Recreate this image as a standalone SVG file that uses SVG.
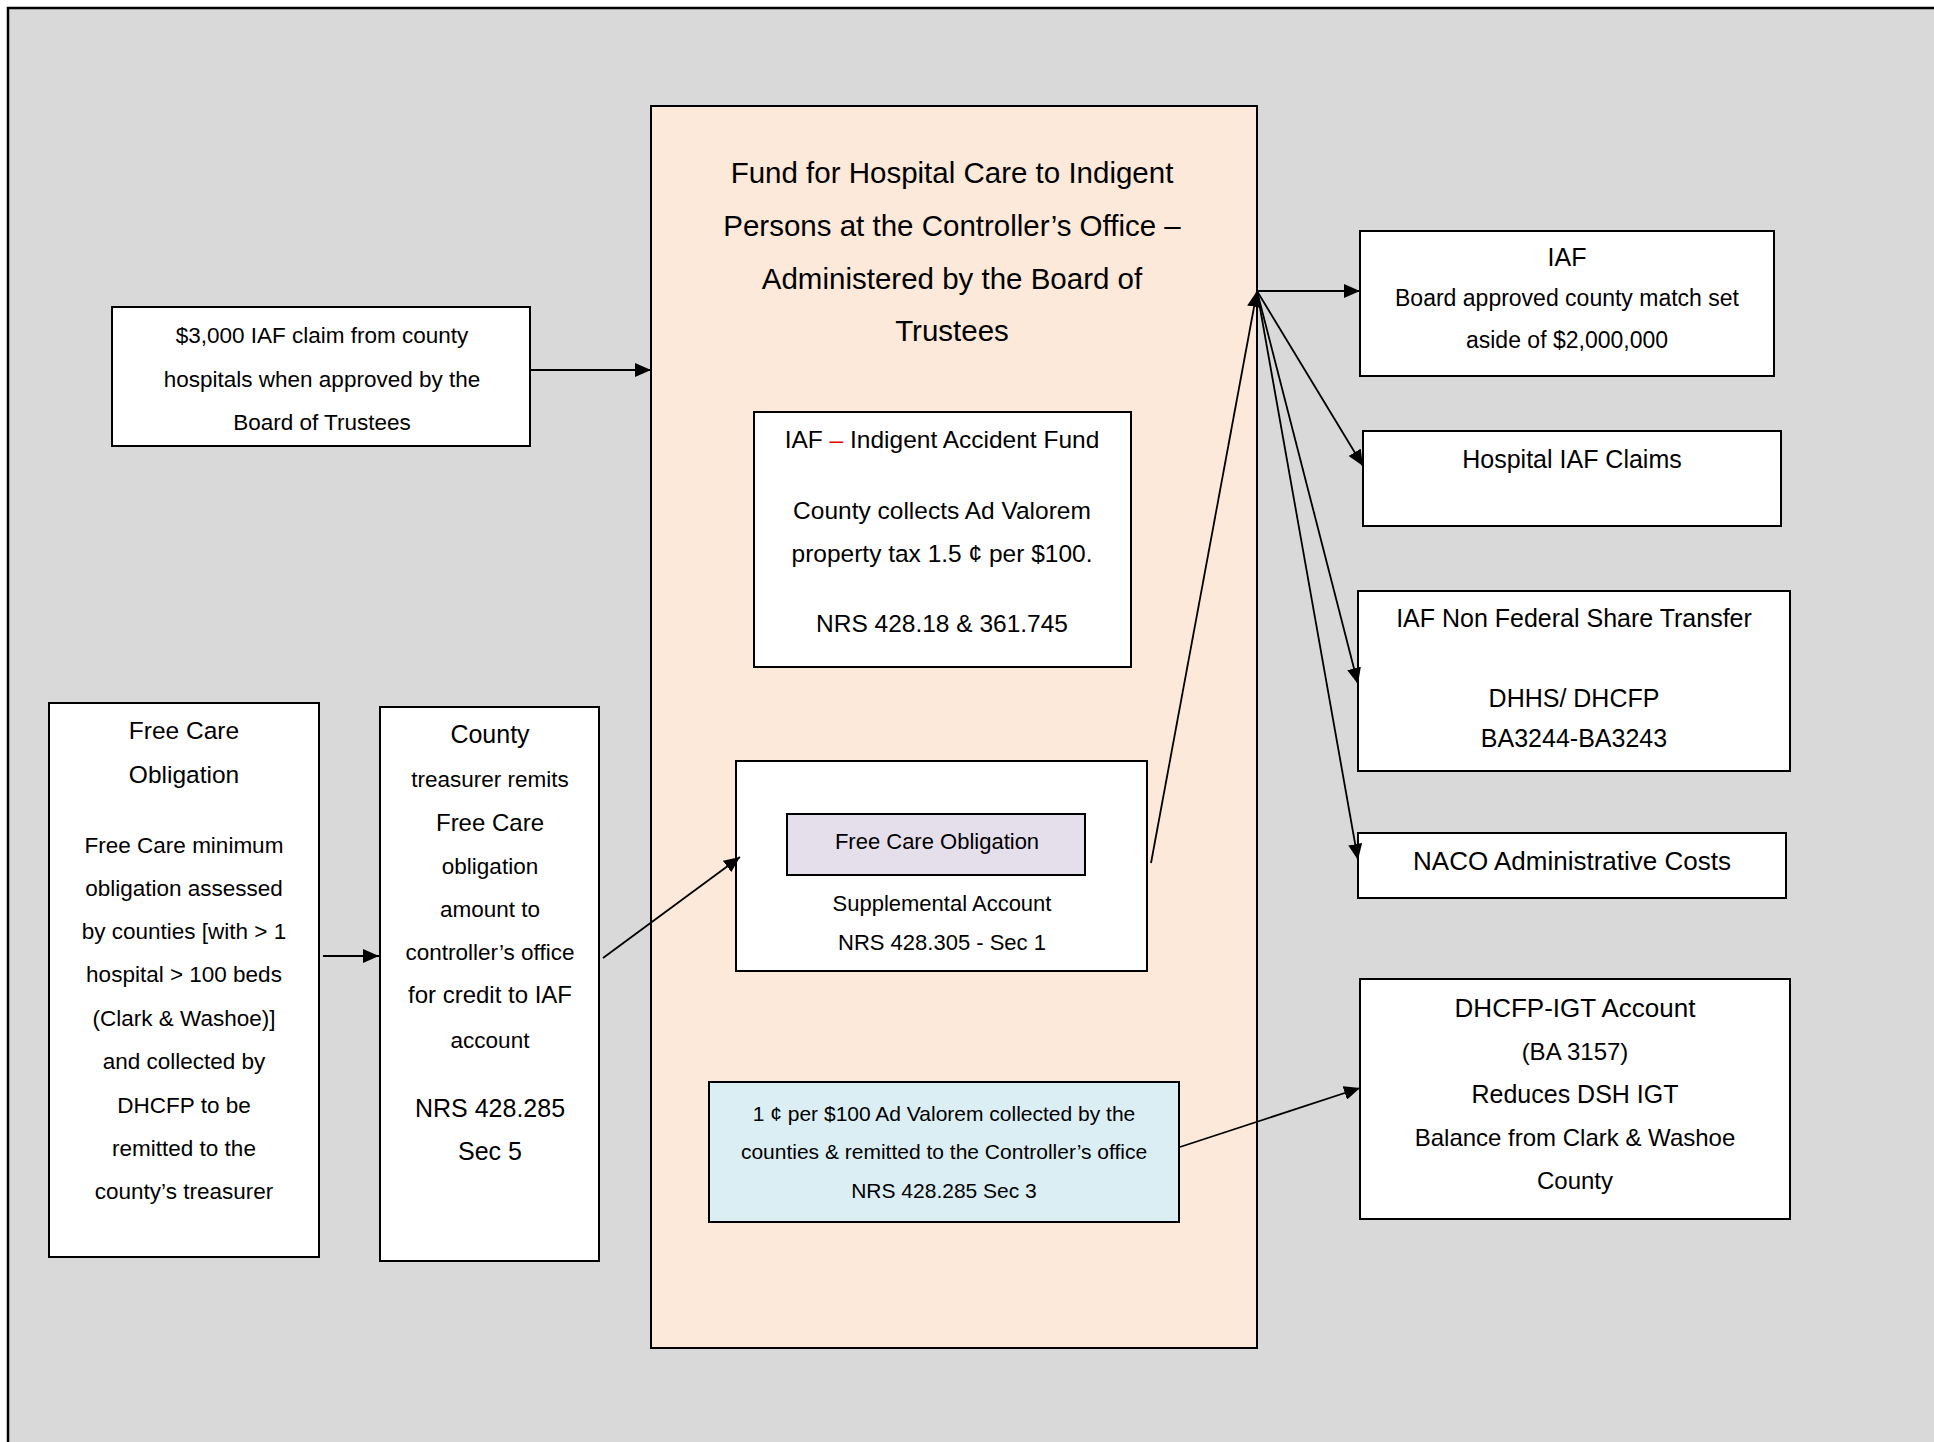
<svg xmlns="http://www.w3.org/2000/svg" width="1934" height="1442" viewBox="0 0 1934 1442">
<defs>
<style>
.box{fill:#ffffff;stroke:#000000;stroke-width:2}
.t{font-family:"Liberation Sans",Arial,sans-serif;fill:#000000;text-anchor:middle}
.conn{stroke:#000000;stroke-width:1.8;fill:none}
</style>
<marker id="ah" viewBox="0 0 16 14" refX="16" refY="7" markerWidth="16" markerHeight="14" markerUnits="userSpaceOnUse" orient="auto">
<path d="M0,0 L16,7 L0,14 Z" fill="#000000"/>
</marker>
</defs>
<rect x="0" y="0" width="1934" height="1442" fill="#ffffff"/>
<rect x="8" y="8" width="1940" height="1450" fill="#D9D9D9" stroke="#000000" stroke-width="2.5"/>

<g id="fund-main">
<rect x="651" y="106" width="606" height="1242" fill="#FDE9D9" stroke="#000000" stroke-width="2"/>
<text class="t" font-size="29.5"><tspan x="952" y="183">Fund for Hospital Care to Indigent</tspan><tspan x="952" y="236">Persons at the Controller’s Office –</tspan><tspan x="952" y="289">Administered by the Board of</tspan><tspan x="952" y="341">Trustees</tspan></text>
</g>

<g id="iaf-inner">
<rect class="box" x="754" y="412" width="377" height="255"/>
<text class="t" font-size="24.5"><tspan x="942" y="448">IAF <tspan fill="#E00000">–</tspan> Indigent Accident Fund</tspan><tspan x="942" y="519">County collects Ad Valorem</tspan><tspan x="942" y="562">property tax 1.5 ¢ per $100.</tspan><tspan x="942" y="632">NRS 428.18 &amp; 361.745</tspan></text>
</g>

<g id="supplemental">
<rect class="box" x="736" y="761" width="411" height="210"/>
<rect x="787" y="814" width="298" height="61" fill="#E5DFEC" stroke="#000000" stroke-width="2"/>
<text class="t" font-size="22"><tspan x="937" y="849">Free Care Obligation</tspan><tspan x="942" y="911">Supplemental Account</tspan><tspan x="942" y="950">NRS 428.305 - Sec 1</tspan></text>
</g>

<g id="advalorem">
<rect x="709" y="1082" width="470" height="140" fill="#DBEEF3" stroke="#000000" stroke-width="2"/>
<text class="t" font-size="21"><tspan x="944" y="1121">1  ¢ per $100 Ad Valorem collected by the</tspan><tspan x="944" y="1159">counties &amp; remitted to the Controller’s office</tspan><tspan x="944" y="1198">NRS 428.285 Sec 3</tspan></text>
</g>

<g id="claim3000">
<rect class="box" x="112" y="307" width="418" height="139"/>
<text class="t" font-size="22.5"><tspan x="322" y="343">$3,000 IAF claim from county</tspan><tspan x="322" y="387">hospitals when approved by the</tspan><tspan x="322" y="430">Board of Trustees</tspan></text>
</g>

<g id="free-care-left">
<rect class="box" x="49" y="703" width="270" height="554"/>
<text class="t" font-size="22.5"><tspan x="184" y="739" font-size="24.5">Free Care</tspan><tspan x="184" y="783" font-size="24.5">Obligation</tspan><tspan x="184" y="853">Free Care minimum</tspan><tspan x="184" y="896">obligation assessed</tspan><tspan x="184" y="939">by counties [with &gt; 1</tspan><tspan x="184" y="982">hospital &gt; 100 beds</tspan><tspan x="184" y="1026">(Clark &amp; Washoe)]</tspan><tspan x="184" y="1069">and collected by</tspan><tspan x="184" y="1113">DHCFP to be</tspan><tspan x="184" y="1156">remitted to the</tspan><tspan x="184" y="1199">county’s treasurer</tspan></text>
</g>

<g id="county-treasurer">
<rect class="box" x="380" y="707" width="219" height="554"/>
<text class="t" font-size="22.5"><tspan x="490" y="743" font-size="25">County</tspan><tspan x="490" y="787">treasurer remits</tspan><tspan x="490" y="831" font-size="24">Free Care</tspan><tspan x="490" y="874">obligation</tspan><tspan x="490" y="917">amount to</tspan><tspan x="490" y="960">controller’s office</tspan><tspan x="490" y="1003" font-size="24">for credit to IAF</tspan><tspan x="490" y="1048">account</tspan><tspan x="490" y="1117" font-size="25">NRS 428.285</tspan><tspan x="490" y="1160" font-size="25">Sec 5</tspan></text>
</g>

<g id="iaf-match">
<rect class="box" x="1360" y="231" width="414" height="145"/>
<text class="t" font-size="23"><tspan x="1567" y="266" font-size="25">IAF</tspan><tspan x="1567" y="306">Board approved county match set</tspan><tspan x="1567" y="348">aside of $2,000,000</tspan></text>
</g>

<g id="hospital-claims">
<rect class="box" x="1363" y="431" width="418" height="95"/>
<text class="t" font-size="25" x="1572" y="468">Hospital IAF Claims</text>
</g>

<g id="nonfederal">
<rect class="box" x="1358" y="591" width="432" height="180"/>
<text class="t" font-size="25"><tspan x="1574" y="627">IAF Non Federal Share Transfer</tspan><tspan x="1574" y="707">DHHS/ DHCFP</tspan><tspan x="1574" y="747">BA3244-BA3243</tspan></text>
</g>

<g id="naco">
<rect class="box" x="1358" y="833" width="428" height="65"/>
<text class="t" font-size="26" x="1572" y="870">NACO Administrative Costs</text>
</g>

<g id="dhcfp-igt">
<rect class="box" x="1360" y="979" width="430" height="240"/>
<text class="t" font-size="24"><tspan x="1575" y="1017" font-size="26">DHCFP-IGT Account</tspan><tspan x="1575" y="1060">(BA 3157)</tspan><tspan x="1575" y="1103" font-size="25">Reduces DSH IGT</tspan><tspan x="1575" y="1146">Balance from Clark &amp; Washoe</tspan><tspan x="1575" y="1189">County</tspan></text>
</g>

<g id="connectors">
<line class="conn" x1="530" y1="370" x2="651" y2="370" marker-end="url(#ah)"/>
<line class="conn" x1="323" y1="956" x2="379" y2="956" marker-end="url(#ah)"/>
<line class="conn" x1="603" y1="958" x2="740" y2="857" marker-end="url(#ah)"/>
<line class="conn" x1="1151" y1="863" x2="1257" y2="291" marker-end="url(#ah)"/>
<line class="conn" x1="1257" y1="291" x2="1360" y2="291" marker-end="url(#ah)"/>
<line class="conn" x1="1257" y1="291" x2="1363" y2="466" marker-end="url(#ah)"/>
<line class="conn" x1="1257" y1="291" x2="1358" y2="684" marker-end="url(#ah)"/>
<line class="conn" x1="1257" y1="291" x2="1358" y2="860" marker-end="url(#ah)"/>
<line class="conn" x1="1180" y1="1147" x2="1360" y2="1088" marker-end="url(#ah)"/>
</g>
</svg>
